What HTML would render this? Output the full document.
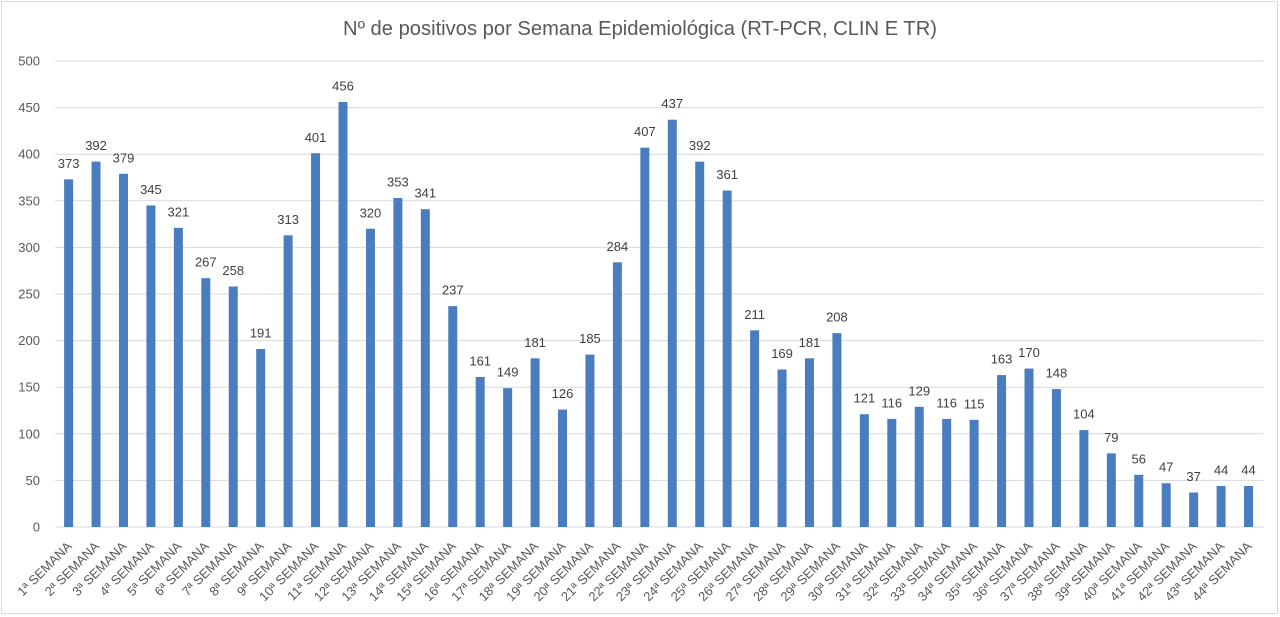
<!DOCTYPE html>
<html><head><meta charset="utf-8"><style>
html,body{margin:0;padding:0;background:#fff;}
svg{display:block;}
text{font-family:"Liberation Sans",Arial,sans-serif;}
.v{font-size:13px;fill:#404040;text-anchor:middle;}
.y{font-size:13px;fill:#595959;text-anchor:end;}
.x{font-size:13px;fill:#595959;text-anchor:end;}
</style></head><body>
<svg width="1280" height="617" viewBox="0 0 1280 617" xmlns="http://www.w3.org/2000/svg">
<rect x="0" y="0" width="1280" height="617" fill="#fff"/>
<rect x="1.5" y="1.5" width="1276" height="612" fill="none" stroke="#d9d9d9" stroke-width="1"/>
<text x="640" y="35" font-size="20" fill="#595959" text-anchor="middle" textLength="594" lengthAdjust="spacingAndGlyphs">Nº de positivos por Semana Epidemiológica (RT-PCR, CLIN E TR)</text>
<g stroke="#d9d9d9" stroke-width="1">
<line x1="55" x2="1263" y1="61" y2="61"/>
<line x1="55" x2="1263" y1="107.6" y2="107.6"/>
<line x1="55" x2="1263" y1="154.2" y2="154.2"/>
<line x1="55" x2="1263" y1="200.8" y2="200.8"/>
<line x1="55" x2="1263" y1="247.4" y2="247.4"/>
<line x1="55" x2="1263" y1="294" y2="294"/>
<line x1="55" x2="1263" y1="340.6" y2="340.6"/>
<line x1="55" x2="1263" y1="387.2" y2="387.2"/>
<line x1="55" x2="1263" y1="433.8" y2="433.8"/>
<line x1="55" x2="1263" y1="480.4" y2="480.4"/>
<line x1="55" x2="1263" y1="527" y2="527"/>
</g>
<g class="yl">
<text class="y" x="40" y="65.5">500</text>
<text class="y" x="40" y="112.1">450</text>
<text class="y" x="40" y="158.7">400</text>
<text class="y" x="40" y="205.3">350</text>
<text class="y" x="40" y="251.9">300</text>
<text class="y" x="40" y="298.5">250</text>
<text class="y" x="40" y="345.1">200</text>
<text class="y" x="40" y="391.7">150</text>
<text class="y" x="40" y="438.3">100</text>
<text class="y" x="40" y="484.9">50</text>
<text class="y" x="40" y="531.5">0</text>
</g>
<g fill="#4a7dbf">
<rect x="64.1" y="179.36" width="9" height="347.64"/>
<rect x="91.54" y="161.66" width="9" height="365.34"/>
<rect x="118.98" y="173.77" width="9" height="353.23"/>
<rect x="146.42" y="205.46" width="9" height="321.54"/>
<rect x="173.86" y="227.83" width="9" height="299.17"/>
<rect x="201.3" y="278.16" width="9" height="248.84"/>
<rect x="228.74" y="286.54" width="9" height="240.46"/>
<rect x="256.18" y="348.99" width="9" height="178.01"/>
<rect x="283.62" y="235.28" width="9" height="291.72"/>
<rect x="311.06" y="153.27" width="9" height="373.73"/>
<rect x="338.5" y="102.01" width="9" height="424.99"/>
<rect x="365.94" y="228.76" width="9" height="298.24"/>
<rect x="393.38" y="198" width="9" height="329"/>
<rect x="420.82" y="209.19" width="9" height="317.81"/>
<rect x="448.26" y="306.12" width="9" height="220.88"/>
<rect x="475.7" y="376.95" width="9" height="150.05"/>
<rect x="503.14" y="388.13" width="9" height="138.87"/>
<rect x="530.58" y="358.31" width="9" height="168.69"/>
<rect x="558.02" y="409.57" width="9" height="117.43"/>
<rect x="585.46" y="354.58" width="9" height="172.42"/>
<rect x="612.9" y="262.31" width="9" height="264.69"/>
<rect x="640.34" y="147.68" width="9" height="379.32"/>
<rect x="667.78" y="119.72" width="9" height="407.28"/>
<rect x="695.22" y="161.66" width="9" height="365.34"/>
<rect x="722.66" y="190.55" width="9" height="336.45"/>
<rect x="750.1" y="330.35" width="9" height="196.65"/>
<rect x="777.54" y="369.49" width="9" height="157.51"/>
<rect x="804.98" y="358.31" width="9" height="168.69"/>
<rect x="832.42" y="333.14" width="9" height="193.86"/>
<rect x="859.86" y="414.23" width="9" height="112.77"/>
<rect x="887.3" y="418.89" width="9" height="108.11"/>
<rect x="914.74" y="406.77" width="9" height="120.23"/>
<rect x="942.18" y="418.89" width="9" height="108.11"/>
<rect x="969.62" y="419.82" width="9" height="107.18"/>
<rect x="997.06" y="375.08" width="9" height="151.92"/>
<rect x="1024.5" y="368.56" width="9" height="158.44"/>
<rect x="1051.94" y="389.06" width="9" height="137.94"/>
<rect x="1079.38" y="430.07" width="9" height="96.93"/>
<rect x="1106.82" y="453.37" width="9" height="73.63"/>
<rect x="1134.26" y="474.81" width="9" height="52.19"/>
<rect x="1161.7" y="483.2" width="9" height="43.8"/>
<rect x="1189.14" y="492.52" width="9" height="34.48"/>
<rect x="1216.58" y="485.99" width="9" height="41.01"/>
<rect x="1244.02" y="485.99" width="9" height="41.01"/>
</g>
<g>
<text class="v" x="68.6" y="167.9">373</text>
<text class="v" x="96.04" y="150.2">392</text>
<text class="v" x="123.48" y="162.3">379</text>
<text class="v" x="150.92" y="194">345</text>
<text class="v" x="178.36" y="216.3">321</text>
<text class="v" x="205.8" y="266.7">267</text>
<text class="v" x="233.24" y="275">258</text>
<text class="v" x="260.68" y="337.5">191</text>
<text class="v" x="288.12" y="223.8">313</text>
<text class="v" x="315.56" y="141.8">401</text>
<text class="v" x="343" y="90.5">456</text>
<text class="v" x="370.44" y="217.3">320</text>
<text class="v" x="397.88" y="186.5">353</text>
<text class="v" x="425.32" y="197.7">341</text>
<text class="v" x="452.76" y="294.6">237</text>
<text class="v" x="480.2" y="365.5">161</text>
<text class="v" x="507.64" y="376.6">149</text>
<text class="v" x="535.08" y="346.8">181</text>
<text class="v" x="562.52" y="398.1">126</text>
<text class="v" x="589.96" y="343.1">185</text>
<text class="v" x="617.4" y="250.8">284</text>
<text class="v" x="644.84" y="136.2">407</text>
<text class="v" x="672.28" y="108.2">437</text>
<text class="v" x="699.72" y="150.2">392</text>
<text class="v" x="727.16" y="179">361</text>
<text class="v" x="754.6" y="318.9">211</text>
<text class="v" x="782.04" y="358">169</text>
<text class="v" x="809.48" y="346.8">181</text>
<text class="v" x="836.92" y="321.6">208</text>
<text class="v" x="864.36" y="402.7">121</text>
<text class="v" x="891.8" y="407.4">116</text>
<text class="v" x="919.24" y="395.3">129</text>
<text class="v" x="946.68" y="407.4">116</text>
<text class="v" x="974.12" y="408.3">115</text>
<text class="v" x="1001.56" y="363.6">163</text>
<text class="v" x="1029" y="357.1">170</text>
<text class="v" x="1056.44" y="377.6">148</text>
<text class="v" x="1083.88" y="418.6">104</text>
<text class="v" x="1111.32" y="441.9">79</text>
<text class="v" x="1138.76" y="463.3">56</text>
<text class="v" x="1166.2" y="471.7">47</text>
<text class="v" x="1193.64" y="481">37</text>
<text class="v" x="1221.08" y="474.5">44</text>
<text class="v" x="1248.52" y="474.5">44</text>
</g>
<g>
<text class="x" transform="translate(72.6,547) rotate(-45)">1ª SEMANA</text>
<text class="x" transform="translate(100.04,547) rotate(-45)">2ª SEMANA</text>
<text class="x" transform="translate(127.48,547) rotate(-45)">3ª SEMANA</text>
<text class="x" transform="translate(154.92,547) rotate(-45)">4ª SEMANA</text>
<text class="x" transform="translate(182.36,547) rotate(-45)">5ª SEMANA</text>
<text class="x" transform="translate(209.8,547) rotate(-45)">6ª SEMANA</text>
<text class="x" transform="translate(237.24,547) rotate(-45)">7ª SEMANA</text>
<text class="x" transform="translate(264.68,547) rotate(-45)">8ª SEMANA</text>
<text class="x" transform="translate(292.12,547) rotate(-45)">9ª SEMANA</text>
<text class="x" transform="translate(319.56,547) rotate(-45)">10ª SEMANA</text>
<text class="x" transform="translate(347,547) rotate(-45)">11ª SEMANA</text>
<text class="x" transform="translate(374.44,547) rotate(-45)">12ª SEMANA</text>
<text class="x" transform="translate(401.88,547) rotate(-45)">13ª SEMANA</text>
<text class="x" transform="translate(429.32,547) rotate(-45)">14ª SEMANA</text>
<text class="x" transform="translate(456.76,547) rotate(-45)">15ª SEMANA</text>
<text class="x" transform="translate(484.2,547) rotate(-45)">16ª SEMANA</text>
<text class="x" transform="translate(511.64,547) rotate(-45)">17ª SEMANA</text>
<text class="x" transform="translate(539.08,547) rotate(-45)">18ª SEMANA</text>
<text class="x" transform="translate(566.52,547) rotate(-45)">19ª SEMANA</text>
<text class="x" transform="translate(593.96,547) rotate(-45)">20ª SEMANA</text>
<text class="x" transform="translate(621.4,547) rotate(-45)">21ª SEMANA</text>
<text class="x" transform="translate(648.84,547) rotate(-45)">22ª SEMANA</text>
<text class="x" transform="translate(676.28,547) rotate(-45)">23ª SEMANA</text>
<text class="x" transform="translate(703.72,547) rotate(-45)">24ª SEMANA</text>
<text class="x" transform="translate(731.16,547) rotate(-45)">25ª SEMANA</text>
<text class="x" transform="translate(758.6,547) rotate(-45)">26ª SEMANA</text>
<text class="x" transform="translate(786.04,547) rotate(-45)">27ª SEMANA</text>
<text class="x" transform="translate(813.48,547) rotate(-45)">28ª SEMANA</text>
<text class="x" transform="translate(840.92,547) rotate(-45)">29ª SEMANA</text>
<text class="x" transform="translate(868.36,547) rotate(-45)">30ª SEMANA</text>
<text class="x" transform="translate(895.8,547) rotate(-45)">31ª SEMANA</text>
<text class="x" transform="translate(923.24,547) rotate(-45)">32ª SEMANA</text>
<text class="x" transform="translate(950.68,547) rotate(-45)">33ª SEMANA</text>
<text class="x" transform="translate(978.12,547) rotate(-45)">34ª SEMANA</text>
<text class="x" transform="translate(1005.56,547) rotate(-45)">35ª SEMANA</text>
<text class="x" transform="translate(1033,547) rotate(-45)">36ª SEMANA</text>
<text class="x" transform="translate(1060.44,547) rotate(-45)">37ª SEMANA</text>
<text class="x" transform="translate(1087.88,547) rotate(-45)">38ª SEMANA</text>
<text class="x" transform="translate(1115.32,547) rotate(-45)">39ª SEMANA</text>
<text class="x" transform="translate(1142.76,547) rotate(-45)">40ª SEMANA</text>
<text class="x" transform="translate(1170.2,547) rotate(-45)">41ª SEMANA</text>
<text class="x" transform="translate(1197.64,547) rotate(-45)">42ª SEMANA</text>
<text class="x" transform="translate(1225.08,547) rotate(-45)">43ª SEMANA</text>
<text class="x" transform="translate(1252.52,547) rotate(-45)">44ª SEMANA</text>
</g>
</svg>
</body></html>
